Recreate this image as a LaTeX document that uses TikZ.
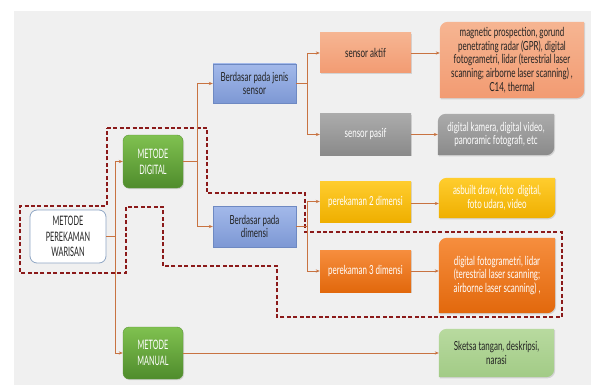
\documentclass[tikz,border=0pt]{standalone}
\usepackage{fontspec}
\setmainfont[FakeStretch=0.64]{Lato}
\newfontfamily\capsfont[FakeStretch=0.56]{Lato}
\usetikzlibrary{arrows.meta,shadows}
\definecolor{bgc}{HTML}{F0F0F0}
\definecolor{conn}{RGB}{200,115,65}
\definecolor{dashred}{HTML}{8B1A1A}
\definecolor{txt}{HTML}{222222}
\definecolor{grT}{HTML}{80C150}\definecolor{grB}{HTML}{4F8C2C}\definecolor{grD}{HTML}{5C9638}
\definecolor{blT}{HTML}{A3B9EA}\definecolor{blB}{HTML}{7D98D4}\definecolor{blD}{HTML}{6E89C2}
\definecolor{saT}{HTML}{F6B592}\definecolor{saB}{HTML}{F29B72}
\definecolor{gyT}{HTML}{ABABAB}\definecolor{gyB}{HTML}{8A8A8A}
\definecolor{goT}{HTML}{FFCD2E}\definecolor{goB}{HTML}{EFAF00}
\definecolor{orT}{HTML}{F68E3E}\definecolor{orB}{HTML}{E2680C}
\definecolor{lgT}{HTML}{B8DA9F}\definecolor{lgB}{HTML}{A2CB86}
\definecolor{wbd}{HTML}{8FA6C4}
\tikzset{
  box/.style={inner sep=0pt, align=center, font=\fontsize{12.5}{13.7}\selectfont},
  capsbox/.style={box, font=\capsfont\fontsize{13}{15.8}\selectfont},
  shd/.style={drop shadow={opacity=0.25, shadow xshift=1pt, shadow yshift=-1.2pt}},
  greenbox/.style={capsbox, rounded corners=6pt, top color=grT, bottom color=grB, draw=grD, text=white, shd},
  bluebox/.style={box, top color=blT, bottom color=blB, draw=blD, text=txt, shd},
  line/.style={draw=conn, line width=0.8pt},
  arr/.style={line, -{Stealth[length=4pt,width=3.2pt]}},
  dashline/.style={draw=dashred, line width=1.6pt, dash pattern=on 4pt off 2.4pt},
}
% round-diagonal-corner box drawn behind a text node
\newcommand{\rdbox}[2]{%
  \path[#2] (#1.west) [rounded corners=8pt] -- (#1.north west) [sharp corners] -- (#1.north east) -- (#1.east) [rounded corners=8pt] -- (#1.south east) [sharp corners] -- (#1.south west) -- cycle;}
\begin{document}
\begin{tikzpicture}[x=1pt,y=-1pt]
\useasboundingbox (0,0) rectangle (591,385);
\fill[white] (0,0) rectangle (591,385);
\fill[bgc] (14,11) rectangle (591,385);

% dashed outline
\draw[dashline]
  (107,128) -- (207,128) -- (207,193) -- (305,193) -- (305,232) -- (562,232)
  -- (562,317) -- (277,317) -- (277,266) -- (163,266) -- (163,207) -- (126,207)
  -- (126,273) -- (20,273) -- (20,206) -- (107,206) -- cycle;

% left and middle nodes
\node[capsbox, rounded corners=7pt, fill=white, draw=wbd, line width=0.8pt, text=txt,
      minimum width=76pt, minimum height=53pt] (war) at (68,236.5) {METODE\\PEREKAMAN\\WARISAN};
\node[greenbox, minimum width=60pt, minimum height=53pt] (dig) at (153,161.5) {METODE\\DIGITAL};
\node[greenbox, minimum width=60pt, minimum height=52pt] (man) at (153,353) {METODE\\MANUAL};
\node[bluebox, minimum width=83pt, minimum height=39pt] (jen) at (254.5,83.5) {Berdasar pada jenis\\sensor};
\node[bluebox, minimum width=83pt, minimum height=41pt] (dim) at (254.5,226.5) {Berdasar pada\\dimensi};
\node[box, top color=saT, bottom color=saB, text=txt, shd, minimum width=91pt, minimum height=40pt] (akt) at (365.5,53) {sensor aktif};
\node[box, top color=gyT, bottom color=gyB, text=white, shd, minimum width=91pt, minimum height=41pt] (pas) at (365.5,134.5) {sensor pasif};
\node[box, top color=goT, bottom color=goB, text=white, shd, minimum width=91pt, minimum height=41pt] (d2) at (365.5,201.5) {perekaman 2 dimensi};
\node[box, top color=orT, bottom color=orB, text=white, shd, minimum width=91pt, minimum height=42pt] (d3) at (365.5,271) {perekaman 3 dimensi};

% right column nodes (shape drawn separately)
\node[box, text=txt, minimum width=144pt, minimum height=76pt] (mag) at (512,60) {};
\rdbox{mag}{top color=saT, bottom color=saB, shd}
\node[box, text=txt] at (mag) {magnetic prospection, gorund\\penetrating radar (GPR), digital\\fotogrametri, lidar (terestrial laser\\scanning; airborne laser scanning) ,\\C14, thermal};
\node[box, minimum width=116pt, minimum height=41pt] (kam) at (496,134.5) {};
\rdbox{kam}{top color=gyT, bottom color=gyB, shd}
\node[box, text=white] at (kam) {digital kamera, digital video,\\panoramic fotografi, etc};
\node[box, minimum width=116pt, minimum height=40pt] (asb) at (497,198) {};
\rdbox{asb}{top color=goT, bottom color=goB, shd}
\node[box, text=white] at (asb) {asbuilt draw, foto \ digital,\\foto udara, video};
\node[box, minimum width=116pt, minimum height=75pt] (fot) at (497,275.5) {};
\rdbox{fot}{top color=orT, bottom color=orB, shd}
\node[box, text=white] at (fot) {digital fotogrametri, lidar\\(terestrial laser scanning;\\airborne laser scanning) ,};
\node[box, minimum width=115pt, minimum height=48pt] (ske) at (496.5,353) {};
\rdbox{ske}{top color=lgT, bottom color=lgB, shd}
\node[box, text=txt] at (ske) {Sketsa tangan, deskripsi,\\narasi};

% connectors
\coordinate (t1) at (115,236.5);
\coordinate (t2) at (197,161.5);
\coordinate (t3) at (307,83.5);
\coordinate (t4) at (307,226.5);
\draw[line] (war.east) -- (t1);
\draw[arr] (t1) |- (dig.west);
\draw[arr] (t1) |- (man.west);
\draw[line] (dig.east) -- (t2);
\draw[arr] (t2) |- (jen.west);
\draw[arr] (t2) |- (dim.west);
\draw[line] (jen.east) -- (t3);
\draw[arr] (t3) |- (akt.west);
\draw[arr] (t3) |- (pas.west);
\draw[line] (dim.east) -- (t4);
\draw[arr] (t4) |- (d2.west);
\draw[arr] (t4) |- (d3.west);
\draw[arr] (akt.east) -- (akt.east -| mag.west);
\draw[arr] (pas.east) -- (pas.east -| kam.west);
\draw[arr] ([yshift=-2pt]d2.east) -- ([yshift=-2pt]d2.east -| asb.west);
\draw[arr] (d3.east) -- (d3.east -| fot.west);
\draw[arr] (man.east) -- (man.east -| ske.west);
\end{tikzpicture}
\end{document}
